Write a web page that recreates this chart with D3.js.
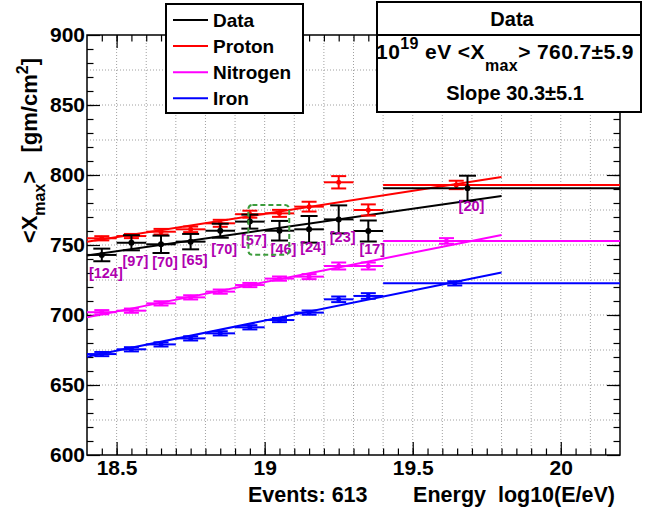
<!DOCTYPE html>
<html>
<head>
    <meta charset="UTF-8">
    <title>Xmax vs energy</title>
    <style>
        body { margin: 0; background: #fff; }
        text { font-family: "Liberation Sans", Arial, Helvetica, sans-serif; font-weight: bold; }
    </style>
</head>
<body>
    <script src="https://cdnjs.cloudflare.com/ajax/libs/d3/7.8.5/d3.min.js"></script>
    <script>
        // bins in log10(E/eV)
        var binLo = [18.4, 18.5, 18.6, 18.7, 18.8, 18.9, 19.0, 19.1, 19.2, 19.3, 19.4]
        var binHi = [18.5, 18.6, 18.7, 18.8, 18.9, 19.0, 19.1, 19.2, 19.3, 19.4, 20.2]
        var binX = [18.45, 18.55, 18.65, 18.75, 18.85, 18.95, 19.05, 19.15, 19.25, 19.35]

        // data
        var dataLastX = 19.685
        var dataY = [742.9, 751.6, 750.5, 752.4, 760.2, 766.7, 760.2, 761.2, 768.3, 760.0, 790.5]
        var dataErr = [4.5, 5.4, 6.2, 5.5, 5.0, 5.0, 7.0, 9.5, 10.0, 7.5, 9.0]
        var eventCounts = [124, 97, 70, 65, 70, 57, 46, 24, 23, 17, 20]

        // simulations
        var protonLastX = 19.647
        var protonY = [754.8, 756.4, 759.5, 761.2, 765.5, 772.0, 772.6, 777.4, 794.8, 775.0, 792.9]
        var protonErr = [1.5, 1.5, 2.0, 2.0, 2.5, 2.5, 2.5, 3.5, 4.4, 4.0, 3.0]
        var nitrogenLastX = 19.614
        var nitrogenY = [702.0, 703.1, 708.3, 712.6, 716.7, 721.4, 726.0, 727.4, 735.0, 735.0, 752.9]
        var nitrogenErr = [1.5, 1.5, 1.5, 1.5, 1.5, 1.5, 1.5, 1.8, 2.5, 2.5, 2.0]
        var ironLastX = 19.642
        var ironY = [672.1, 675.5, 679.0, 683.3, 686.9, 691.2, 696.4, 701.7, 711.2, 713.6, 722.6]
        var ironErr = [1.5, 1.5, 1.5, 1.5, 1.5, 1.5, 1.5, 1.5, 2.0, 2.0, 1.5]

        // linear fits: value at 10^19 eV and slope per decade
        var fitNames = ["Data", "Proton", "Nitrogen", "Iron"]
        var fitAt19 = [760.7, 772.2, 723.5, 696.0]
        var fitSlope = [30.3, 33.0, 42.0, 43.0]
        var fitRange = [18.4, 19.8]

        // dashed highlight box (data units)
        var boxX = [18.945, 19.083]
        var boxY = [743.0, 778.6]

        var xMajor = [18.5, 19, 19.5, 20]
        var yMajor = [600, 650, 700, 750, 800, 850, 900]

        var colors = ["#000000", "#ff0000", "#ff00ff", "#0000ff"]

        var width = 645
        var height = 512
        var margin = { top: 35, right: 25, bottom: 57, left: 87 }

        var svg = d3.select("body").append("svg")
            .attr("width", width)
            .attr("height", height)

        var x = d3.scaleLinear().domain([18.4, 20.2]).range([margin.left, width - margin.right])
        var y = d3.scaleLinear().domain([600, 900]).range([height - margin.bottom, margin.top])

        // grid (dotted)
        var gx = d3.range(18.5, 20.15, 0.1)
        var gy = d3.range(625, 900, 25)
        svg.append("g").selectAll("line").data(gx).enter().append("line")
            .attr("x1", d => x(d)).attr("x2", d => x(d))
            .attr("y1", y(600)).attr("y2", y(900))
            .attr("stroke", "#a0a0a0").attr("stroke-dasharray", "1,2")
        svg.append("g").selectAll("line").data(gy).enter().append("line")
            .attr("y1", d => y(d)).attr("y2", d => y(d))
            .attr("x1", x(18.4)).attr("x2", x(20.2))
            .attr("stroke", "#a0a0a0").attr("stroke-dasharray", "1,2")

        // axes, ticks pointing inwards
        var xMinor = d3.range(18.45, 20.2, 0.05).map(d => +d.toFixed(2))
        var yMinor = d3.range(610, 900, 10)
        function ax(g, axis) {
            g.call(axis)
            g.select(".domain").remove()
            g.selectAll("line").attr("stroke", "#000").attr("stroke-width", 1.2)
            g.selectAll("text").attr("font-size", 21).attr("fill", "#000")
        }
        var bottom = height - margin.bottom
        svg.append("g").attr("transform", "translate(0," + bottom + ")")
            .call(ax, d3.axisBottom(x).tickValues(xMinor).tickSize(-6.5).tickFormat(""))
        svg.append("g").attr("transform", "translate(0," + bottom + ")")
            .call(ax, d3.axisBottom(x).tickValues(xMajor).tickSize(-13).tickPadding(5).tickFormat(d3.format("")))
        svg.append("g").attr("transform", "translate(0," + margin.top + ")")
            .call(ax, d3.axisTop(x).tickValues(xMinor).tickSize(-6.5).tickFormat(""))
        svg.append("g").attr("transform", "translate(0," + margin.top + ")")
            .call(ax, d3.axisTop(x).tickValues(xMajor).tickSize(-13).tickFormat(""))
        svg.append("g").attr("transform", "translate(" + margin.left + ",0)")
            .call(ax, d3.axisLeft(y).tickValues(yMinor).tickSize(-6.5).tickFormat(""))
        svg.append("g").attr("transform", "translate(" + margin.left + ",0)")
            .call(ax, d3.axisLeft(y).tickValues(yMajor).tickSize(-13).tickPadding(2))
        svg.append("g").attr("transform", "translate(" + (width - margin.right) + ",0)")
            .call(ax, d3.axisRight(y).tickValues(yMinor).tickSize(-6.5).tickFormat(""))
        svg.append("g").attr("transform", "translate(" + (width - margin.right) + ",0)")
            .call(ax, d3.axisRight(y).tickValues(yMajor).tickSize(-13).tickFormat(""))

        svg.append("rect")
            .attr("x", x(18.4)).attr("y", y(900))
            .attr("width", x(20.2) - x(18.4)).attr("height", y(600) - y(900))
            .attr("fill", "none").attr("stroke", "#000").attr("stroke-width", 1.5)

        // fit lines
        fitNames.forEach(function (n, k) {
            svg.append("line")
                .attr("x1", x(fitRange[0])).attr("x2", x(fitRange[1]))
                .attr("y1", y(fitAt19[k] + fitSlope[k] * (fitRange[0] - 19)))
                .attr("y2", y(fitAt19[k] + fitSlope[k] * (fitRange[1] - 19)))
                .attr("stroke", colors[k]).attr("stroke-width", 2)
        })

        // error bar points
        function drawSeries(vals, errs, lastX, color, capW, r) {
            var pts = vals.map(function (v, i) {
                return { x: i < binX.length ? binX[i] : lastX, lo: binLo[i], hi: binHi[i], v: v, e: errs[i] }
            })
            var g = svg.append("g").attr("stroke", color).attr("stroke-width", 2)
            g.selectAll(".h").data(pts).enter().append("line")
                .attr("x1", d => x(d.lo)).attr("x2", d => x(d.hi))
                .attr("y1", d => y(d.v)).attr("y2", d => y(d.v))
            g.selectAll(".v").data(pts).enter().append("line")
                .attr("x1", d => x(d.x)).attr("x2", d => x(d.x))
                .attr("y1", d => y(d.v - d.e)).attr("y2", d => y(d.v + d.e))
            g.selectAll(".ct").data(pts).enter().append("line")
                .attr("x1", d => x(d.x) - capW / 2).attr("x2", d => x(d.x) + capW / 2)
                .attr("y1", d => y(d.v + d.e)).attr("y2", d => y(d.v + d.e))
            g.selectAll(".cb").data(pts).enter().append("line")
                .attr("x1", d => x(d.x) - capW / 2).attr("x2", d => x(d.x) + capW / 2)
                .attr("y1", d => y(d.v - d.e)).attr("y2", d => y(d.v - d.e))
            svg.append("g").selectAll("circle").data(pts).enter().append("circle")
                .attr("cx", d => x(d.x)).attr("cy", d => y(d.v)).attr("r", r)
                .attr("fill", color)
            return pts
        }
        drawSeries(ironY, ironErr, ironLastX, colors[3], 15, 2.5)
        drawSeries(nitrogenY, nitrogenErr, nitrogenLastX, colors[2], 15, 2.5)
        drawSeries(protonY, protonErr, protonLastX, colors[1], 15, 2.5)
        var dataPts = drawSeries(dataY, dataErr, dataLastX, colors[0], 17, 3)

        // event counts under data points
        svg.append("g").selectAll("text").data(dataPts).enter().append("text")
            .attr("x", d => x(d.x) + 4)
            .attr("y", d => y(d.v) + 23)
            .attr("text-anchor", "middle")
            .attr("font-size", 14.5)
            .attr("fill", "#b000b0")
            .text((d, i) => "[" + eventCounts[i] + "]")

        // green dashed box
        svg.append("rect")
            .attr("x", x(boxX[0])).attr("y", y(boxY[1]))
            .attr("width", x(boxX[1]) - x(boxX[0])).attr("height", y(boxY[0]) - y(boxY[1]))
            .attr("rx", 4)
            .attr("fill", "none").attr("stroke", "#3c9c3c").attr("stroke-width", 2)
            .attr("stroke-dasharray", "5,3")

        // legend
        var leg = svg.append("g")
        leg.append("rect").attr("x", 166).attr("y", 4).attr("width", 137).attr("height", 109)
            .attr("fill", "#fff").attr("stroke", "#000").attr("stroke-width", 2)
        fitNames.forEach(function (n, k) {
            var ly = 20 + k * 26.1
            leg.append("line").attr("x1", 173).attr("x2", 208).attr("y1", ly).attr("y2", ly)
                .attr("stroke", colors[k]).attr("stroke-width", 2)
            leg.append("text").attr("x", 213).attr("y", ly + 7).attr("font-size", 19).text(n)
        })

        // stats box
        var st = svg.append("g")
        st.append("rect").attr("x", 377).attr("y", 2).attr("width", 264).attr("height", 110)
            .attr("fill", "#fff").attr("stroke", "#000").attr("stroke-width", 2)
        st.append("line").attr("x1", 377).attr("x2", 641).attr("y1", 35).attr("y2", 35)
            .attr("stroke", "#000").attr("stroke-width", 2)
        st.append("text").attr("x", 512).attr("y", 26).attr("text-anchor", "middle")
            .attr("font-size", 20).text("Data")
        var t1 = st.append("text").attr("x", 505).attr("y", 59).attr("text-anchor", "middle")
            .attr("font-size", 21).attr("letter-spacing", 0.4)
        t1.append("tspan").text("10")
        t1.append("tspan").attr("font-size", 16).attr("dy", -10).text("19")
        t1.append("tspan").attr("dy", 10).text("\u00a0eV <X")
        t1.append("tspan").attr("font-size", 16).attr("dy", 12).text("max")
        t1.append("tspan").attr("dy", -12).text("> " + fitAt19[0].toFixed(1) + "\u00b15.9")
        st.append("text").attr("x", 515).attr("y", 100).attr("text-anchor", "middle")
            .attr("font-size", 20).text("Slope " + fitSlope[0].toFixed(1) + "\u00b15.1")

        // axis titles
        svg.append("text").attr("x", 248).attr("y", 502).attr("font-size", 21.5).text("Events: 613")
        svg.append("text").attr("x", 615).attr("y", 502).attr("text-anchor", "end")
            .attr("font-size", 21.5).text("Energy\u00a0\u00a0log10(E/eV)")
        var yt = svg.append("text").attr("transform", "translate(37,58) rotate(-90)")
            .attr("text-anchor", "end").attr("font-size", 22)
        yt.append("tspan").text("<X")
        yt.append("tspan").attr("font-size", 16).attr("dy", 8).text("max")
        yt.append("tspan").attr("dy", -8).text(">\u00a0\u00a0\u00a0[gm/cm")
        yt.append("tspan").attr("font-size", 16).attr("dy", -9).text("2")
        yt.append("tspan").attr("dy", 9).text("]")
    </script>
</body>
</html>
